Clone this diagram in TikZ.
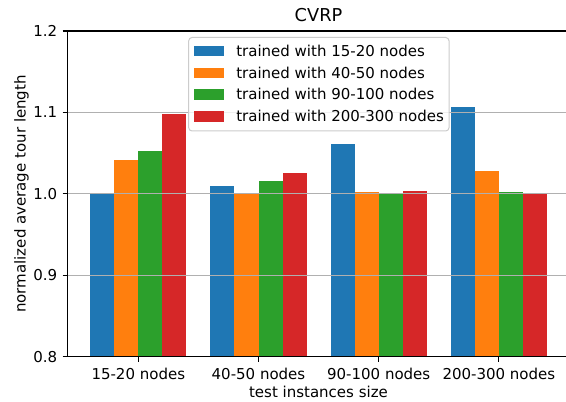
\documentclass[tikz,border=0pt]{standalone}
\usepackage{fontspec}
\setmainfont{DejaVu Sans}
\definecolor{cA}{HTML}{1F77B4}
\definecolor{cB}{HTML}{FF7F0E}
\definecolor{cC}{HTML}{2CA02C}
\definecolor{cD}{HTML}{D62728}
\definecolor{gridgray}{HTML}{B0B0B0}
\definecolor{legframe}{HTML}{CCCCCC}
\newcommand\drawbar[4]{%
  \pgfmathsetmacro\xa{138.3+#1*120.2+(#2-2)*24.04}%
  \pgfmathsetmacro\xb{\xa+24.04}%
  \pgfmathsetmacro\yt{356.7-(#3-0.8)*814.25}%
  \fill[#4] (\xa,356.7) rectangle (\xb,\yt);}
\begin{document}
\begin{tikzpicture}[x=0.75pt,y=-0.75pt,
  lbl/.style={inner sep=0pt,font=\fontsize{11.25}{13.5}\selectfont},
  ttl/.style={inner sep=0pt,font=\fontsize{13.3}{16}\selectfont},
  gridline/.style={draw=gridgray,line width=0.75pt},
  spine/.style={draw=black,line width=0.8pt},
  tickmark/.style={draw=black,line width=0.8pt},
  legbox/.style={draw=legframe,fill=white,fill opacity=0.8,line width=0.75pt,rounded corners=2.5pt}]
\useasboundingbox (0,0) rectangle (566,402);
\fill[white] (0,0) rectangle (566,402);
% bars
\foreach \g/\a/\b/\c/\d in {0/1.000/1.042/1.053/1.0985, 1/1.010/1.000/1.0163/1.025, 2/1.0618/1.0025/1.000/1.004, 3/1.107/1.0286/1.0025/1.000}{
  \drawbar{\g}{0}{\a}{cA}
  \drawbar{\g}{1}{\b}{cB}
  \drawbar{\g}{2}{\c}{cC}
  \drawbar{\g}{3}{\d}{cD}
}
% grid
\foreach \v in {0.9,1.0,1.1}{
  \pgfmathsetmacro\yy{356.7-(\v-0.8)*814.25}
  \draw[gridline] (67.4,\yy) -- (566,\yy);
}
% spines
\coordinate (ll) at (67.4,356.7);
\coordinate (ul) at (67.4,31);
\coordinate (lr) at (566,356.7);
\coordinate (ur) at (566,31);
\draw[spine] (ul) -- (ll) -- (lr);
\draw[spine] (ul) -- (ur);
% y ticks
\foreach \v/\t [count=\i] in {0.8/0.8,0.9/0.9,1.0/1.0,1.1/1.1,1.2/1.2}{
  \pgfmathsetmacro\yy{356.7-(\v-0.8)*814.25}
  \draw[tickmark] (62.5,\yy) -- (67.4,\yy);
  \node[lbl,anchor=east] (yt\i) at (57.5,\yy) {\t};
}
% x ticks
\foreach \t [count=\i from 0] in {15-20 nodes,40-50 nodes,90-100 nodes,200-300 nodes}{
  \pgfmathsetmacro\xx{138.3+\i*120.2}
  \draw[tickmark] (\xx,356.7) -- (\xx,361.8);
  \node[lbl,anchor=base] (xt\i) at (\xx,379) {\t};
}
% labels
\node[ttl,anchor=base] (title) at (318.5,22) {CVRP};
\node[lbl,anchor=base] (xlabel) at (318.5,397.5) {test instances size};
\node[lbl,anchor=base,rotate=90] (ylabel) at (25.5,194) {normalized average tour length};
% legend
\draw[legbox] (188.7,37.5) rectangle (449,131);
\foreach \c/\t [count=\i from 0] in {cA/15-20,cB/40-50,cC/90-100,cD/200-300}{
  \pgfmathsetmacro\yb{56.3+\i*21.8}
  \fill[\c] (194,\yb-10.5) rectangle (224,\yb);
  \node[lbl,anchor=base west] (leg\i) at (236,\yb) {trained with \t\ nodes};
}
\end{tikzpicture}
\end{document}
